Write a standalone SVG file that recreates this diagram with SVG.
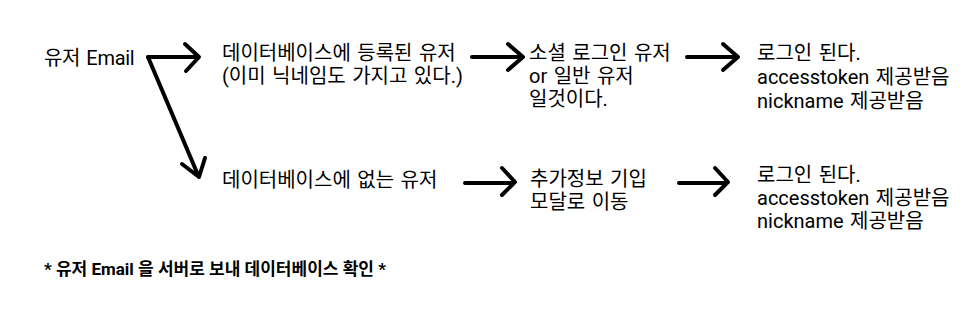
<svg xmlns="http://www.w3.org/2000/svg" width="975" height="311" viewBox="0 0 975 311">
<style>
text{font-family:Roboto,"Noto Sans CJK KR",sans-serif;font-size:20px;fill:#000;word-spacing:1.5px}
.note{font-size:17px;font-weight:bold;word-spacing:0}
.c path{fill:none;stroke:#000;stroke-width:4;stroke-linecap:round;stroke-linejoin:round}
</style>
<rect width="975" height="311" fill="#fff"/>
<g id="email"><text x="44" y="65" word-spacing="0" letter-spacing="-0.3">유저 Email</text></g>
<g id="registered"><text x="222" y="60">데이터베이스에 등록된 유저</text><text x="222" y="83">(이미 닉네임도 가지고 있다.)</text></g>
<g id="social"><text x="529" y="60">소셜 로그인 유저</text><text x="529" y="83">or 일반 유저</text><text x="529" y="106">일것이다.</text></g>
<g id="login1"><text x="757" y="60">로그인 된다.</text><text x="757" y="84">accesstoken 제공받음</text><text x="757" y="108">nickname 제공받음</text></g>
<g id="notfound"><text x="222" y="187">데이터베이스에 없는 유저</text></g>
<g id="extra"><text x="530" y="186">추가정보 기입</text><text x="530" y="209">모달로 이동</text></g>
<g id="login2"><text x="757" y="182">로그인 된다.</text><text x="757" y="205">accesstoken 제공받음</text><text x="757" y="228">nickname 제공받음</text></g>
<g id="note"><text class="note" x="44" y="275">* 유저 Email 을 서버로 보내 데이터베이스 확인 *</text></g>
<g class="c" id="connectors">
<path d="M148 57 H198 M185 44 L199 57 L186 71"/>
<path d="M148 57 L198 175 M182 164 L199 177 L205 158"/>
<path d="M472 57 H522 M508 44 L523 57 L508 70"/>
<path d="M687 57 H737 M723 44 L738 57 L723 70"/>
<path d="M465 183 H514 M502 168 L515 182 L502 195"/>
<path d="M679 183 H727 M715 168 L728 182 L715 195"/>
</g>
</svg>
